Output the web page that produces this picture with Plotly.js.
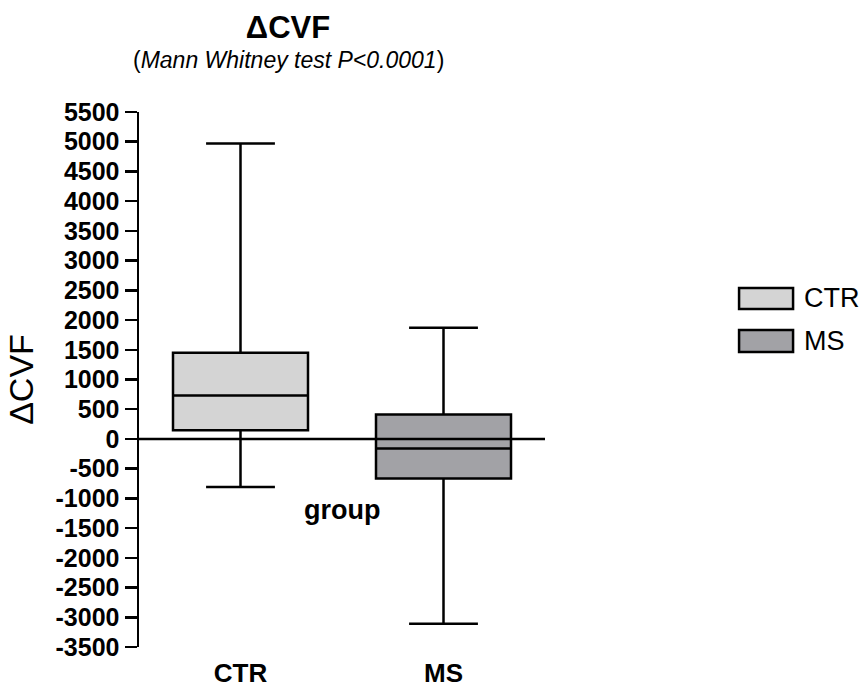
<!DOCTYPE html>
<html>
<head>
<meta charset="utf-8">
<script src="https://cdn.plot.ly/plotly-3.0.1.min.js"></script>
<style>html,body{margin:0;padding:0;background:#fff;}#chart{width:863px;height:687px;}</style>
</head>
<body>
<div id="chart"></div>
<script>
// Data
var groups = ['CTR', 'MS'];
var lowerWhisker = [-808, -3110];
var q1Values = [147, -667];
var medianValues = [731, -162];
var q3Values = [1449, 411];
var upperWhisker = [4970, 1870];
var fillColors = ['#d4d4d4', '#a2a2a6'];
var yTickValues = [-3500,-3000,-2500,-2000,-1500,-1000,-500,0,500,1000,1500,2000,2500,3000,3500,4000,4500,5000,5500];

var traces = groups.map(function (g, i) {
  return {
    type: 'box',
    name: g,
    x: [g],
    q1: [q1Values[i]],
    median: [medianValues[i]],
    q3: [q3Values[i]],
    lowerfence: [lowerWhisker[i]],
    upperfence: [upperWhisker[i]],
    boxpoints: false,
    width: 0.665,
    whiskerwidth: 0.51,
    fillcolor: fillColors[i],
    line: {color: '#000', width: 2.5},
    hoverinfo: 'skip',
    showlegend: false
  };
});

var shapes = [
  // zero reference line drawn above boxes
  {type: 'line', xref: 'paper', x0: 0, x1: 1, yref: 'y', y0: 0, y1: 0, layer: 'above',
   line: {color: '#000', width: 2.5}}
];
var annotations = [
  {text: '(<i>Mann Whitney test P&lt;0.0001</i>)', xref: 'paper', yref: 'paper', x: 0.367, y: 1.097,
   xanchor: 'center', yanchor: 'middle', showarrow: false,
   font: {family: 'Liberation Sans, Arial, sans-serif', size: 23, color: '#000'}},
  {text: '<b>group</b>', xref: 'paper', yref: 'y', x: 0.5, y: -1200,
   xanchor: 'center', yanchor: 'middle', showarrow: false,
   font: {family: 'Liberation Sans, Arial, sans-serif', size: 27, color: '#000'}}
];
// custom legend
var legY = [[0.671, 0.632], [0.5925, 0.5514]];
groups.forEach(function (g, i) {
  shapes.push({type: 'rect', xref: 'paper', yref: 'paper', x0: 1.478, x1: 1.611,
    y0: legY[i][1], y1: legY[i][0], fillcolor: fillColors[i], line: {color: '#000', width: 2.5}});
  annotations.push({text: g, xref: 'paper', yref: 'paper', x: 1.632, y: (legY[i][0] + legY[i][1]) / 2,
    xanchor: 'left', yanchor: 'middle', showarrow: false,
    font: {family: 'Liberation Sans, Arial, sans-serif', size: 27, color: '#000'}});
});

var layout = {
  width: 863, height: 687,
  margin: {l: 139, r: 318, t: 112, b: 40, pad: 0},
  paper_bgcolor: '#fff', plot_bgcolor: '#fff',
  font: {family: 'Liberation Sans, Arial, sans-serif', color: '#000'},
  title: {text: '<b>ΔCVF</b>', x: 288 / 863, xanchor: 'center', xref: 'container',
          y: 1 - 27 / 687, yanchor: 'middle', yref: 'container',
          font: {size: 31, color: '#000'}},
  boxmode: 'overlay',
  showlegend: false,
  xaxis: {
    type: 'category', range: [-0.5, 1.5], showline: false, showgrid: false, zeroline: false,
    ticks: 'outside', ticklen: 3, tickcolor: 'rgba(0,0,0,0)',
    tickfont: {size: 26, color: '#000', weight: 'bold'}, fixedrange: true
  },
  yaxis: {
    range: [-3500, 5500], tickmode: 'array', tickvals: yTickValues,
    ticktext: yTickValues.map(String),
    showline: true, linecolor: '#000', linewidth: 2.5,
    ticks: 'outside', ticklen: 12, tickwidth: 2.5, tickcolor: '#000',
    showgrid: false, zeroline: false,
    tickfont: {size: 25, color: '#000', weight: 'bold'},
    title: {text: 'ΔCVF', font: {size: 34, color: '#000'}, standoff: 12},
    automargin: false, fixedrange: true
  },
  shapes: shapes,
  annotations: annotations
};

Plotly.newPlot('chart', traces, layout, {displayModeBar: false, staticPlot: true});
</script>
</body>
</html>
